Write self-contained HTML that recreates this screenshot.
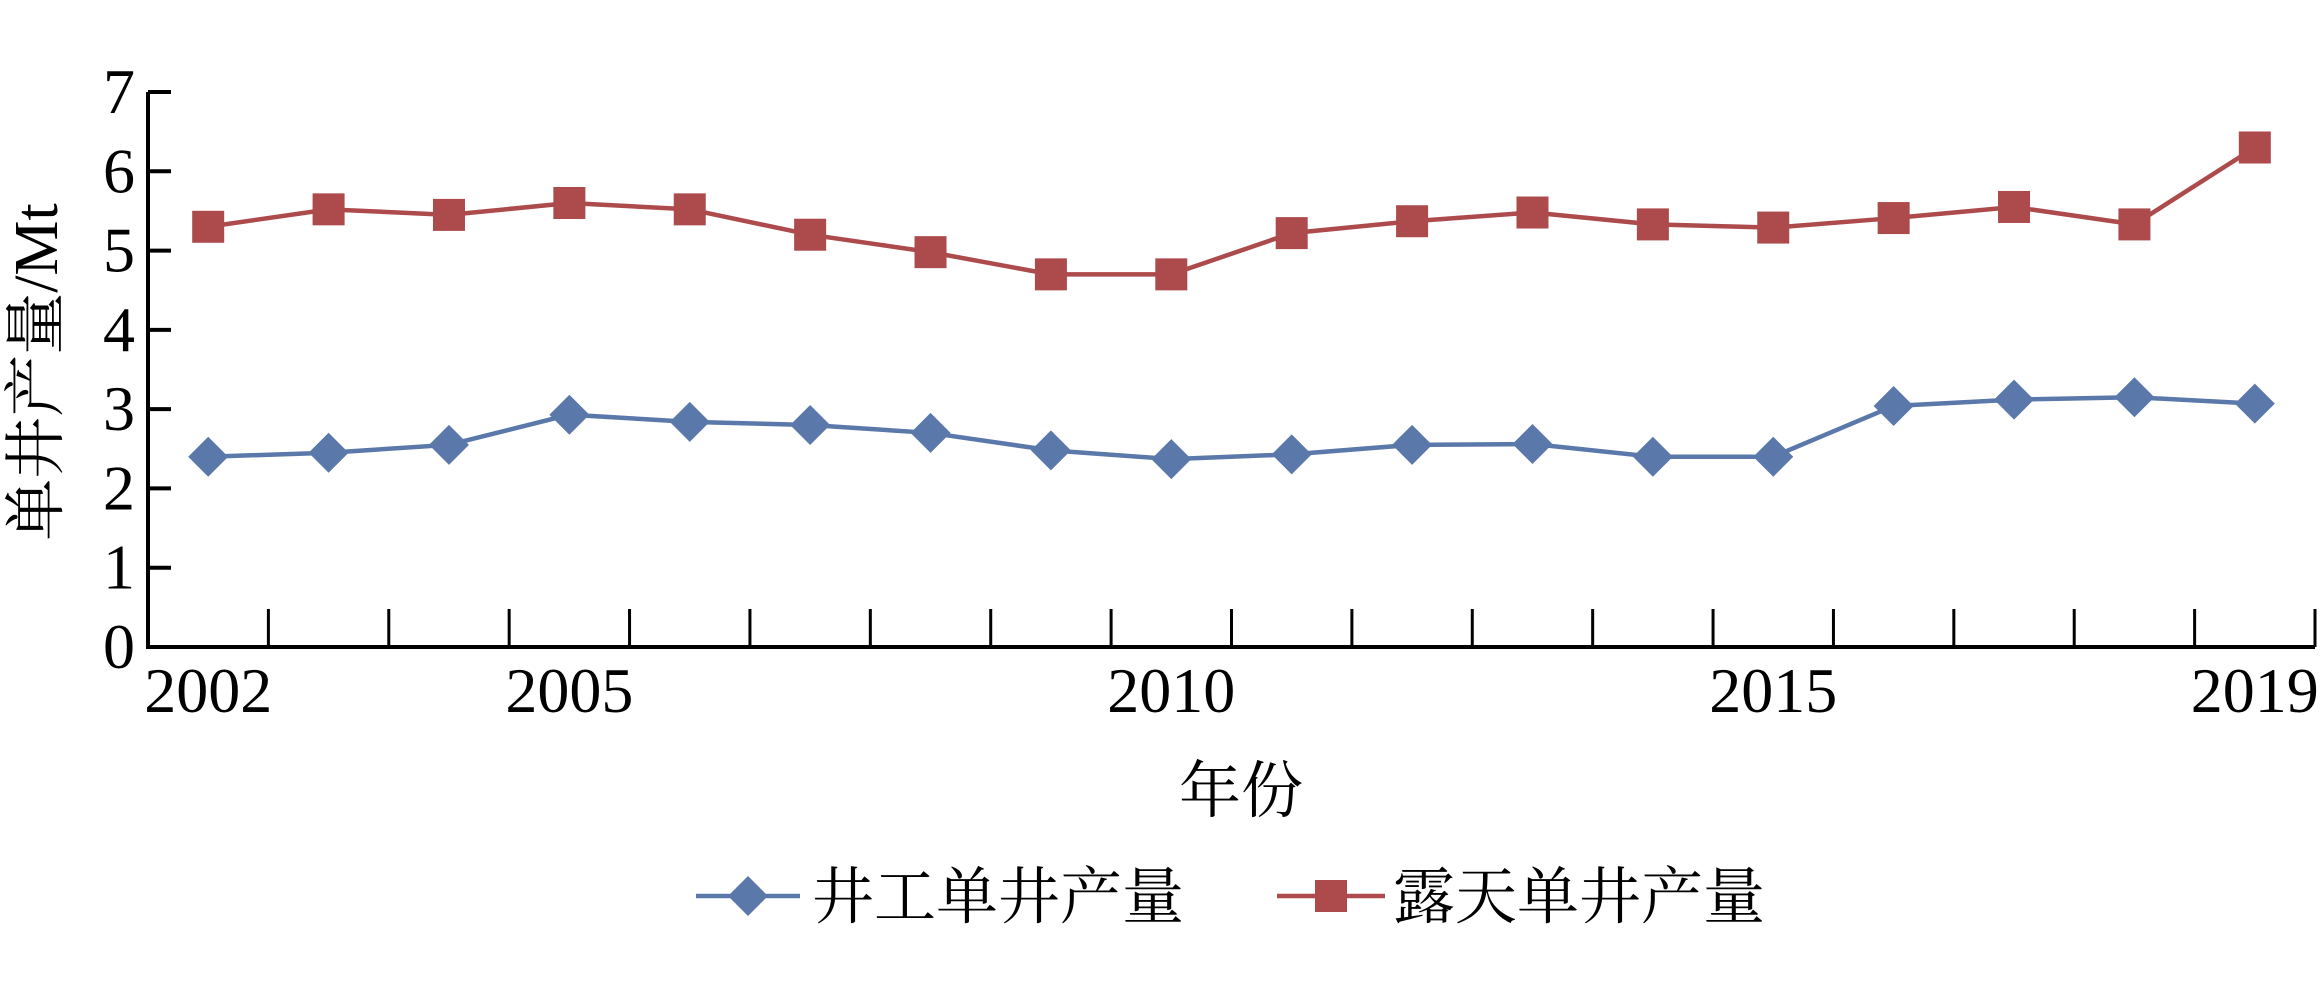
<!DOCTYPE html>
<html><head><meta charset="utf-8"><style>
html,body{margin:0;padding:0;background:#fff;}
svg{display:block;font-family:"Liberation Serif","Noto Serif CJK SC",serif;}
</style></head><body>
<svg id="chart" width="2322" height="985" viewBox="0 0 2322 985" xmlns="http://www.w3.org/2000/svg"></svg>
<script>
const categories=["2002","2003","2004","2005","2006","2007","2008","2009","2010","2011","2012","2013","2014","2015","2016","2017","2018","2019"];
const shownLabels=["2002","2005","2010","2015","2019"];
const yTicks=[0,1,2,3,4,5,6,7];
const undergroundValues=[2.4,2.45,2.55,2.93,2.84,2.8,2.7,2.48,2.37,2.43,2.55,2.56,2.4,2.4,3.04,3.12,3.15,3.07];
const openPitValues=[5.3,5.52,5.45,5.6,5.52,5.2,4.98,4.7,4.7,5.22,5.37,5.48,5.33,5.29,5.41,5.55,5.33,6.3];
const svg=document.getElementById('chart');
const NS='http://www.w3.org/2000/svg';
const X0=148,X1=2315,Y0=647,Y1=92,YMAX=7;
const cw=(X1-X0)/categories.length;
function xPos(i){return X0+cw*(i+0.5);}
function yPos(v){return Y0-(Y0-Y1)*v/YMAX;}
function mk(tag,attrs){const e=document.createElementNS(NS,tag);for(const k in attrs)e.setAttribute(k,attrs[k]);svg.appendChild(e);return e;}
// axes
let e=mk('line',{x1:X0,y1:Y1,x2:X0,y2:Y0+2,stroke:'#000','stroke-width':4});


e=mk('line',{x1:X0-2,y1:Y0,x2:X1,y2:Y0,stroke:'#000','stroke-width':4});


yTicks.forEach(v=>{
  const t=mk('line',{x1:X0,y1:yPos(v),x2:X0+23,y2:yPos(v),stroke:'#000','stroke-width':4});
  
  
  const l=mk('text',{x:X0-13,y:yPos(v)+21,'text-anchor':'end','font-size':64});
  l.textContent=v;
  
  
});
for(let i=1;i<=categories.length;i++){
  const x=X0+cw*i;
  const t=mk('line',{x1:x,y1:Y0,x2:x,y2:Y0-38,stroke:'#000','stroke-width':3});
  
  
}
categories.forEach((c,i)=>{
  if(shownLabels.indexOf(c)<0)return;
  const l=mk('text',{x:xPos(i),y:712,'text-anchor':'middle','font-size':64});
  l.textContent=c;
  
  
});
e=mk('text',{x:1241,y:812,'text-anchor':'middle','font-size':62});
e.textContent='年份';


e=mk('text',{x:0,y:0,'text-anchor':'middle','font-size':62,transform:'translate(57,372) rotate(-90)'});
e.textContent='单井产量/Mt';


function series(vals,color,shape,name){
  const pts=vals.map((v,i)=>xPos(i)+','+yPos(v)).join(' ');
  const p=mk('polyline',{points:pts,fill:'none',stroke:color,'stroke-width':4.5});
  
  
  vals.forEach((v,i)=>{
    const x=xPos(i),y=yPos(v);let m;
    if(shape==='sq'){m=mk('rect',{x:x-16,y:y-16,width:32,height:32,fill:color});}
    else{m=mk('polygon',{points:`${x},${y-20} ${x+20},${y} ${x},${y+20} ${x-20},${y}`,fill:color});}
    
    
  });
}
series(undergroundValues,'#5b78ab','dia','underground');
series(openPitValues,'#ad4a4c','sq','open-pit');
// legend
e=mk('line',{x1:696,y1:896,x2:800,y2:896,stroke:'#5b78ab','stroke-width':4.5});


e=mk('polygon',{points:'748,876 768,896 748,916 728,896',fill:'#5b78ab'});


e=mk('text',{x:812,y:918,'font-size':62});
e.textContent='井工单井产量';


e=mk('line',{x1:1277,y1:896,x2:1385,y2:896,stroke:'#ad4a4c','stroke-width':4.5});


e=mk('rect',{x:1315,y:880,width:32,height:32,fill:'#ad4a4c'});


e=mk('text',{x:1393,y:918,'font-size':62});
e.textContent='露天单井产量';


</script>
</body></html>
